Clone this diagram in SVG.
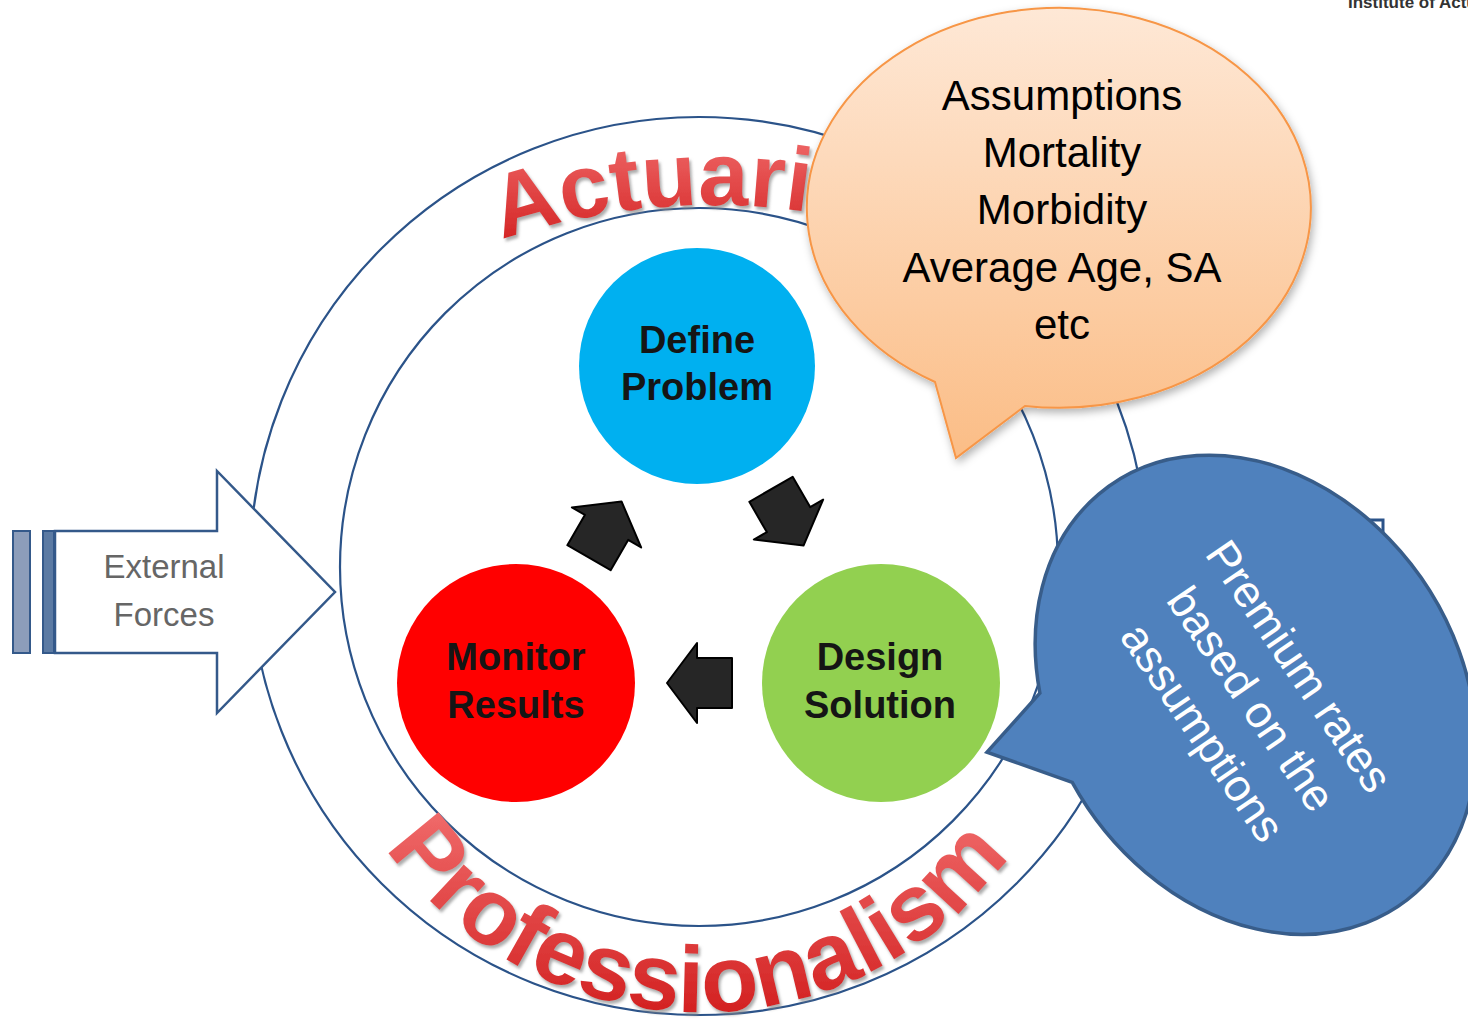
<svg xmlns="http://www.w3.org/2000/svg" width="1468" height="1022" viewBox="0 0 1468 1022">
<defs>
  <style>
    .ring{fill:none;stroke:#2b5389;stroke-width:2.2}
    .lbl{font-family:"Liberation Sans",Arial,sans-serif;font-weight:bold;font-size:38px;text-anchor:middle;fill:#151515}
    .arc{font-family:"Liberation Sans",Arial,sans-serif;font-weight:bold;fill:url(#redg);filter:url(#tshadow)}
    .call{font-family:"Liberation Sans",Arial,sans-serif;font-size:42px;text-anchor:middle;fill:#000}
    .blue{font-family:"Liberation Sans",Arial,sans-serif;font-size:45px;text-anchor:middle;fill:#fff}
    .cyc{fill:#262626;stroke:#000;stroke-width:2;stroke-linejoin:round}
  </style>
  <linearGradient id="redg" x1="0" y1="0" x2="0" y2="1">
    <stop offset="0" stop-color="#f27070"/>
    <stop offset="1" stop-color="#d01a1a"/>
  </linearGradient>
  <linearGradient id="orangeg" x1="0" y1="0" x2="0" y2="1">
    <stop offset="0" stop-color="#fee8d6"/>
    <stop offset="1" stop-color="#fbbd86"/>
  </linearGradient>
  <filter id="tshadow" x="-10%" y="-10%" width="120%" height="130%">
    <feDropShadow dx="2" dy="3" stdDeviation="1.5" flood-color="#888" flood-opacity="0.7"/>
  </filter>
  <filter id="cshadow" x="-10%" y="-10%" width="125%" height="130%">
    <feDropShadow dx="2" dy="4" stdDeviation="4" flood-color="#000" flood-opacity="0.3"/>
  </filter>
  <path id="topArc" d="M 96.5 636 A 655 655 0 0 1 1327.5 636"/>
  <path id="botArc" d="M 322.8 695.5 A 383 383 0 0 0 1077.2 695.5"/>
  <path id="cycArrow" d="M 33 0 L 3 -40 L 3 -25 L -32 -25 L -32 25 L 3 25 L 3 40 Z"/>
</defs>

<rect width="1468" height="1022" fill="#fff"/>

<g id="ring">
  <circle class="ring" cx="699" cy="566" r="449"/>
  <circle class="ring" cx="699" cy="567" r="359"/>
  <text class="arc" font-size="90"><textPath href="#topArc" startOffset="586">Actuarial</textPath></text>
  <text class="arc" font-size="94"><textPath href="#botArc" startOffset="166" textLength="728" lengthAdjust="spacingAndGlyphs">Professionalism</textPath></text>
</g>

<g id="connectors">
  <use href="#cycArrow" class="cyc" transform="translate(700 683) rotate(180)"/>
  <use href="#cycArrow" class="cyc" transform="translate(605 530) rotate(-60)"/>
  <use href="#cycArrow" class="cyc" transform="translate(787 517) rotate(60)"/>
</g>

<g id="define-problem">
  <circle cx="697" cy="366" r="118" fill="#00b0f0"/>
  <text class="lbl" x="697" y="353">Define</text>
  <text class="lbl" x="697" y="400">Problem</text>
</g>

<g id="monitor-results">
  <circle cx="516" cy="683" r="119" fill="#ff0000"/>
  <text class="lbl" x="516" y="670">Monitor</text>
  <text class="lbl" x="516" y="718">Results</text>
</g>

<g id="design-solution">
  <circle cx="881" cy="683" r="119" fill="#92d050"/>
  <text class="lbl" x="880" y="670">Design</text>
  <text class="lbl" x="880" y="718">Solution</text>
</g>

<g id="external-forces">
  <rect x="13" y="531" width="17" height="122" fill="#8c9dba" stroke="#34598a" stroke-width="2"/>
  <rect x="43" y="531" width="11" height="122" fill="#5b7aa3" stroke="#34598a" stroke-width="2"/>
  <path d="M 55 531 H 217 V 471 L 335 592 L 217 713 V 653 H 55 Z" fill="#fff" stroke="#34598a" stroke-width="2.5" stroke-linejoin="miter"/>
  <text x="164" y="578" font-family="'Liberation Sans',Arial,sans-serif" font-size="33" text-anchor="middle" fill="#666">External</text>
  <text x="164" y="626" font-family="'Liberation Sans',Arial,sans-serif" font-size="33" text-anchor="middle" fill="#666">Forces</text>
</g>

<g id="assumptions-callout">
  <path d="M 935 382 L 956 458 L 1025 406 A 252 200 0 1 0 935 382 Z" fill="url(#orangeg)" stroke="#f79646" stroke-width="2" filter="url(#cshadow)"/>
  <text class="call" x="1062" y="110">Assumptions</text>
  <text class="call" x="1062" y="167">Mortality</text>
  <text class="call" x="1062" y="224">Morbidity</text>
  <text class="call" x="1062" y="282">Average Age, SA</text>
  <text class="call" x="1062" y="339">etc</text>
</g>

<path d="M 1362 520 H 1383 V 548" fill="none" stroke="#2b5389" stroke-width="3"/>

<g id="premium-callout" transform="translate(1253.5 697.5) rotate(55.7)">
  <path d="M -124 174 L -105 251 L -32 197.6 A 255 202.5 0 1 0 -124 174 Z" fill="#4f81bd" stroke="#385d8a" stroke-width="3.5" stroke-linejoin="miter"/>
  <text class="blue" x="0" y="-40">Premium rates</text>
  <text class="blue" x="0" y="18">based on the</text>
  <text class="blue" x="0" y="77">assumptions</text>
</g>

<g id="header">
  <text x="1348" y="8" font-family="'Liberation Sans',Arial,sans-serif" font-weight="bold" font-size="17" fill="#333">Institute of Actu</text>
</g>
</svg>
